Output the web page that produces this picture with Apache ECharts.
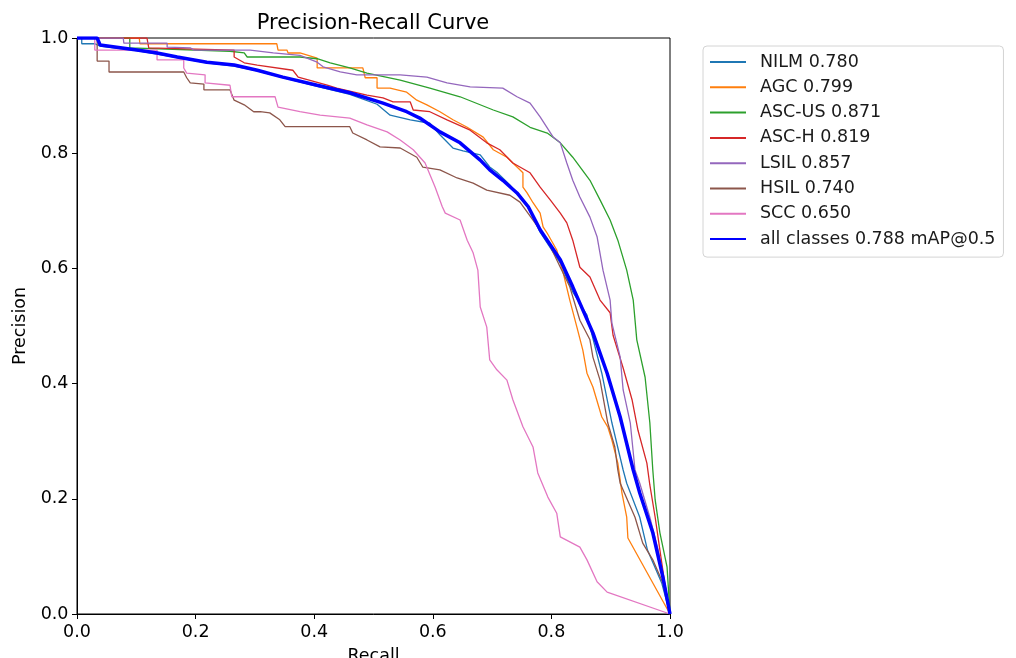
<!DOCTYPE html>
<html>
<head>
<meta charset="utf-8">
<script src="https://cdn.jsdelivr.net/npm/echarts@6/dist/echarts.min.js"></script>
<style>
html,body{margin:0;padding:0;background:#fff;}
#chart{width:1016px;height:658px;}
</style>
</head>
<body>
<div id="chart"></div>
<script>
const seriesNames = ['NILM 0.780','AGC 0.799','ASC-US 0.871','ASC-H 0.819','LSIL 0.857','HSIL 0.740','SCC 0.650','all classes 0.788 mAP@0.5'];
const xTicks = [0, 0.2, 0.4, 0.6, 0.8, 1.0];
const yTicks = [0, 0.2, 0.4, 0.6, 0.8, 1.0];

const nilm = [[0,1],[0.008,1],[0.008,0.990],[0.030,0.990],[0.039,0.986],[0.101,0.978],[0.169,0.966],[0.219,0.957],[0.265,0.951],[0.304,0.943],[0.347,0.931],[0.405,0.916],[0.460,0.902],[0.506,0.885],[0.528,0.866],[0.562,0.858],[0.595,0.852],[0.612,0.832],[0.634,0.809],[0.651,0.804],[0.680,0.797],[0.696,0.776],[0.708,0.767],[0.730,0.745],[0.761,0.705],[0.781,0.663],[0.815,0.609],[0.836,0.559],[0.860,0.519],[0.885,0.418],[0.902,0.332],[0.921,0.250],[0.927,0.227],[0.949,0.168],[0.962,0.111],[0.986,0.054],[1,0]];

const agc = [[0,1],[0.105,1],[0.106,0.990],[0.337,0.990],[0.339,0.979],[0.354,0.979],[0.356,0.974],[0.376,0.974],[0.405,0.965],[0.405,0.948],[0.482,0.948],[0.486,0.931],[0.506,0.931],[0.506,0.913],[0.528,0.913],[0.540,0.910],[0.556,0.906],[0.573,0.892],[0.590,0.884],[0.612,0.872],[0.634,0.858],[0.658,0.845],[0.685,0.828],[0.702,0.806],[0.725,0.793],[0.742,0.776],[0.752,0.766],[0.752,0.741],[0.759,0.731],[0.769,0.714],[0.781,0.696],[0.786,0.672],[0.793,0.661],[0.809,0.632],[0.820,0.592],[0.831,0.545],[0.843,0.498],[0.853,0.458],[0.860,0.418],[0.870,0.394],[0.885,0.342],[0.895,0.325],[0.902,0.302],[0.912,0.262],[0.919,0.210],[0.927,0.168],[0.929,0.132],[1,0]];

const ascus = [[0,1],[0.089,1],[0.089,0.983],[0.258,0.977],[0.282,0.974],[0.287,0.967],[0.376,0.967],[0.405,0.964],[0.427,0.957],[0.460,0.948],[0.489,0.939],[0.545,0.927],[0.595,0.913],[0.646,0.898],[0.702,0.875],[0.735,0.863],[0.764,0.845],[0.793,0.835],[0.815,0.818],[0.836,0.793],[0.865,0.753],[0.882,0.719],[0.899,0.684],[0.912,0.649],[0.927,0.597],[0.938,0.545],[0.944,0.476],[0.958,0.411],[0.966,0.332],[0.971,0.250],[0.975,0.198],[0.983,0.141],[0.995,0.082],[1,0]];

const asch = [[0,1],[0.118,1],[0.121,0.983],[0.265,0.979],[0.265,0.967],[0.282,0.957],[0.304,0.953],[0.364,0.944],[0.373,0.932],[0.422,0.918],[0.438,0.913],[0.489,0.901],[0.516,0.896],[0.533,0.889],[0.562,0.889],[0.567,0.875],[0.595,0.872],[0.624,0.858],[0.663,0.840],[0.691,0.818],[0.713,0.806],[0.735,0.783],[0.764,0.766],[0.781,0.741],[0.798,0.719],[0.815,0.696],[0.826,0.679],[0.836,0.649],[0.848,0.602],[0.865,0.585],[0.882,0.545],[0.899,0.523],[0.904,0.484],[0.921,0.427],[0.936,0.372],[0.946,0.319],[0.961,0.262],[0.966,0.224],[0.975,0.168],[0.983,0.111],[0.991,0.054],[1,0]];

const lsil = [[0,1],[0.078,1],[0.079,0.991],[0.152,0.991],[0.152,0.984],[0.191,0.983],[0.197,0.979],[0.292,0.979],[0.331,0.974],[0.376,0.970],[0.405,0.958],[0.415,0.950],[0.444,0.941],[0.472,0.936],[0.545,0.936],[0.590,0.932],[0.624,0.922],[0.663,0.915],[0.718,0.913],[0.742,0.898],[0.764,0.887],[0.781,0.863],[0.803,0.828],[0.815,0.818],[0.826,0.783],[0.836,0.753],[0.848,0.724],[0.865,0.689],[0.877,0.655],[0.887,0.597],[0.899,0.545],[0.902,0.505],[0.916,0.446],[0.921,0.389],[0.933,0.332],[0.941,0.250],[0.949,0.227],[0.966,0.168],[0.980,0.111],[0.991,0.054],[1,0]];

const hsil = [[0,1],[0.034,1],[0.034,0.960],[0.054,0.960],[0.054,0.941],[0.180,0.941],[0.185,0.931],[0.191,0.922],[0.214,0.920],[0.214,0.910],[0.258,0.910],[0.265,0.892],[0.282,0.884],[0.298,0.872],[0.309,0.872],[0.325,0.870],[0.342,0.858],[0.351,0.846],[0.460,0.846],[0.465,0.835],[0.489,0.823],[0.511,0.811],[0.545,0.809],[0.573,0.793],[0.583,0.776],[0.612,0.771],[0.641,0.757],[0.668,0.748],[0.691,0.736],[0.730,0.727],[0.747,0.715],[0.769,0.684],[0.793,0.649],[0.815,0.602],[0.831,0.568],[0.848,0.510],[0.865,0.476],[0.870,0.446],[0.882,0.406],[0.895,0.332],[0.907,0.290],[0.912,0.250],[0.916,0.227],[0.941,0.168],[0.954,0.123],[0.971,0.094],[0.988,0.054],[1,0]];

const scc = [[0,1],[0.030,1],[0.030,0.979],[0.135,0.979],[0.135,0.962],[0.180,0.962],[0.180,0.948],[0.185,0.939],[0.216,0.936],[0.216,0.922],[0.258,0.918],[0.261,0.898],[0.334,0.898],[0.339,0.880],[0.376,0.872],[0.410,0.866],[0.460,0.861],[0.489,0.849],[0.523,0.837],[0.545,0.823],[0.567,0.806],[0.587,0.783],[0.604,0.741],[0.616,0.707],[0.621,0.696],[0.646,0.684],[0.658,0.649],[0.668,0.627],[0.676,0.597],[0.680,0.533],[0.691,0.498],[0.696,0.441],[0.708,0.424],[0.725,0.406],[0.735,0.372],[0.752,0.325],[0.769,0.290],[0.777,0.245],[0.794,0.203],[0.809,0.175],[0.815,0.134],[0.848,0.116],[0.860,0.094],[0.877,0.056],[0.894,0.038],[1,0]];

const allClasses = [[0,1],[0.034,1],[0.039,0.988],[0.101,0.979],[0.135,0.974],[0.169,0.967],[0.219,0.958],[0.265,0.953],[0.304,0.944],[0.347,0.932],[0.405,0.918],[0.460,0.905],[0.516,0.887],[0.556,0.872],[0.578,0.861],[0.612,0.837],[0.646,0.818],[0.680,0.788],[0.696,0.771],[0.718,0.753],[0.742,0.731],[0.761,0.707],[0.781,0.667],[0.815,0.615],[0.836,0.568],[0.870,0.488],[0.894,0.418],[0.916,0.342],[0.938,0.250],[0.949,0.210],[0.971,0.141],[0.988,0.064],[1,0]];

const seriesData = [nilm, agc, ascus, asch, lsil, hsil, scc, allClasses];
const colors = ['#1f77b4','#ff7f0e','#2ca02c','#d62728','#9467bd','#8c564b','#e377c2','#0000ff'];
const widths = [1.3,1.3,1.3,1.3,1.3,1.3,1.3,3.5];

const FONT = 'DejaVu Sans';
const chart = echarts.init(document.getElementById('chart'), null, {renderer:'canvas'});

const series = seriesData.map((d, i) => ({
  name: seriesNames[i],
  type: 'line',
  data: d,
  symbol: 'none',
  showSymbol: false,
  animation: false,
  color: colors[i],
  lineStyle: {color: colors[i], width: widths[i]},
  z: 2 + i
}));

chart.setOption({
  animation: false,
  backgroundColor: '#ffffff',
  title: {
    text: 'Precision-Recall Curve',
    left: 368, top: 8,
    textAlign: 'center',
    textStyle: {fontFamily: FONT, fontSize: 21, fontWeight: 'normal', color: '#000'}
  },
  grid: {left: 77, right: 346, top: 38, bottom: 44, show: true, borderColor: '#000', borderWidth: 1, containLabel: false, outerBoundsMode: 'none'},
  legend: {
    orient: 'vertical',
    left: 703, top: 46,
    padding: [7, 8, 9, 6],
    itemWidth: 36, itemHeight: 17, itemGap: 7.3,
    selectedMode: false,
    backgroundColor: '#fff',
    borderColor: '#d4d4d4', borderWidth: 1, borderRadius: 4,
    itemStyle: {opacity: 0},
    textStyle: {fontFamily: FONT, fontSize: 17.5, color: '#1a1a1a', padding: [0,0,0,9], lineHeight: 17},
    data: seriesNames
  },
  xAxis: {
    type: 'value', min: 0, max: 1, interval: 0.2,
    name: 'Recall', nameLocation: 'middle', nameGap: 33,
    nameTextStyle: {fontFamily: FONT, fontSize: 17.5, color: '#000'},
    axisLine: {show: true, lineStyle: {color: '#000', width: 1}},
    axisTick: {show: true, length: 5, lineStyle: {color: '#000'}},
    axisLabel: {fontFamily: FONT, fontSize: 17.5, color: '#000', margin: 9, formatter: v => xTicks.includes(+v.toFixed(1)) ? v.toFixed(1) : ''},
    splitLine: {show: false}
  },
  yAxis: {
    type: 'value', min: 0, max: 1, interval: 0.2,
    name: 'Precision', nameLocation: 'middle', nameGap: 45,
    nameTextStyle: {fontFamily: FONT, fontSize: 17.5, color: '#000'},
    axisLine: {show: true, lineStyle: {color: '#000', width: 1}},
    axisTick: {show: true, length: 5, lineStyle: {color: '#000'}},
    axisLabel: {fontFamily: FONT, fontSize: 17.5, color: '#000', margin: 8.5, formatter: v => yTicks.includes(+v.toFixed(1)) ? v.toFixed(1) : ''},
    splitLine: {show: false}
  },
  series: series
});
</script>
</body>
</html>
